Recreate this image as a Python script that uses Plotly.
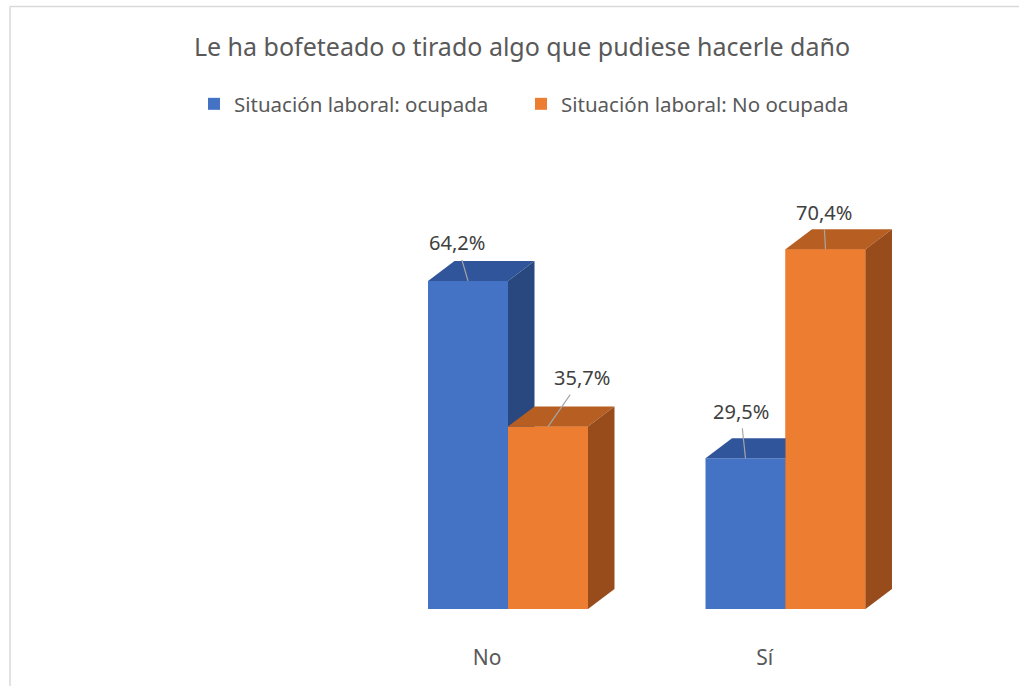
import plotly.graph_objects as go

categories = ["No", "Sí"]
series_names = ["Situación laboral: ocupada", "Situación laboral: No ocupada"]
ocupada = [64.2, 29.5]
no_ocupada = [35.7, 70.4]
labels_ocupada = ["64,2%", "29,5%"]
labels_no_ocupada = ["35,7%", "70,4%"]

front_colors = ["#4472C4", "#ED7D31"]
top_colors = ["#31559A", "#B75E22"]
side_colors = ["#2A4880", "#984C1C"]

W = 1019
H = 686
ML, MR, MT, MB = 20, 19, 150, 77
PW = W - ML - MR
PH = H - MT - MB
PX_PER_CAT = 277.5
PX_PER_PCT = 5.11
x_min = (ML - 508) / PX_PER_CAT
x_max = x_min + PW / PX_PER_CAT
y_max = PH / PX_PER_PCT

bw = 80 / PX_PER_CAT          # bar width in category units
dx = 26.5 / PX_PER_CAT         # depth offset (x)
dy = 20 / PX_PER_PCT           # depth offset (y)

series = [ocupada, no_ocupada]
offsets = [-bw, 0.0]
legend_ids = ["legend", "legend2"]

fig = go.Figure()

# front faces as bars (also give legend entries)
for s, name in enumerate(series_names):
    fig.add_trace(go.Bar(
        x=list(range(len(categories))), y=series[s], name=name,
        width=bw, offset=offsets[s], marker=dict(color=front_colors[s], line=dict(width=0)),
        hoverinfo="skip", legend=legend_ids[s],
    ))


def poly(xs, ys, color):
    fig.add_trace(go.Scatter(x=xs + [xs[0]], y=ys + [ys[0]], fill="toself", fillcolor=color,
                             mode="lines", line=dict(width=0, color=color),
                             showlegend=False, hoverinfo="skip"))


for s in range(2):
    for i, v in enumerate(series[s]):
        x0 = i + offsets[s]
        x1 = x0 + bw
        if s == 1:
            # redraw front face so it covers the previous series' depth faces
            poly([x0, x1, x1, x0], [0, 0, v, v], front_colors[s])
        # top face
        poly([x0, x0 + dx, x1 + dx, x1], [v, v + dy, v + dy, v], top_colors[s])
        # side face
        poly([x1, x1 + dx, x1 + dx, x1], [0, dy, v + dy, v], side_colors[s])

# data labels with leader lines
label_offsets = [[(-11, -38), (-5, -47)], [(34, -49), (-2, -37)]]
label_texts = [labels_ocupada, labels_no_ocupada]
for s in range(2):
    for i, v in enumerate(series[s]):
        xc = i + offsets[s] + bw / 2
        ax, ay = label_offsets[s][i]
        fig.add_annotation(x=xc, y=v, xref="x", yref="y", text=label_texts[s][i],
                           showarrow=True, arrowhead=0, arrowwidth=1.2, arrowcolor="#A6A6A6",
                           ax=ax, ay=ay, standoff=0, borderpad=3,
                           font=dict(family="Noto Sans", size=20, color="#404040"))

# chart border (top and left edges)
fx_left = (10 - ML) / PW
fy_top = 1 + (MT - 6.5) / PH
fig.add_shape(type="line", xref="paper", yref="paper", x0=fx_left, x1=(W - ML) / PW,
              y0=fy_top, y1=fy_top, line=dict(color="#D9D9D9", width=1.5))
fig.add_shape(type="line", xref="paper", yref="paper", x0=fx_left, x1=fx_left,
              y0=fy_top, y1=-(MB) / PH, line=dict(color="#D9D9D9", width=1.5))

legend_style = dict(orientation="h", xref="container", yref="container",
                    xanchor="left", y=1 - 104 / H, yanchor="middle",
                    font=dict(family="Noto Sans", size=20.5, color="#595959"),
                    itemwidth=30, bgcolor="rgba(0,0,0,0)")

fig.update_layout(
    width=W, height=H,
    margin=dict(l=ML, r=MR, t=MT, b=MB),
    paper_bgcolor="white", plot_bgcolor="white",
    barmode="overlay",
    title=dict(text="Le ha bofeteado o tirado algo que pudiese hacerle daño",
               x=522 / W, xref="container", xanchor="center",
               y=1 - 47 / H, yref="container", yanchor="middle",
               font=dict(family="Noto Sans", size=25, color="#595959")),
    legend=dict(x=194 / W, **legend_style),
    legend2=dict(x=521 / W, **legend_style),
    xaxis=dict(range=[x_min, x_max], tickvals=[i - 0.075 for i in range(len(categories))],
               ticktext=categories, showgrid=False, zeroline=False, showline=False,
               ticks="", ticklabelstandoff=34,
               tickfont=dict(family="Noto Sans", size=21, color="#595959"), fixedrange=True),
    yaxis=dict(range=[0, y_max], visible=False, showgrid=False, zeroline=False, fixedrange=True),
    showlegend=True,
)

fig.write_html("out.html", config={"displayModeBar": False},
               post_script="document.body.style.margin='0px';document.body.style.overflow='hidden';")
